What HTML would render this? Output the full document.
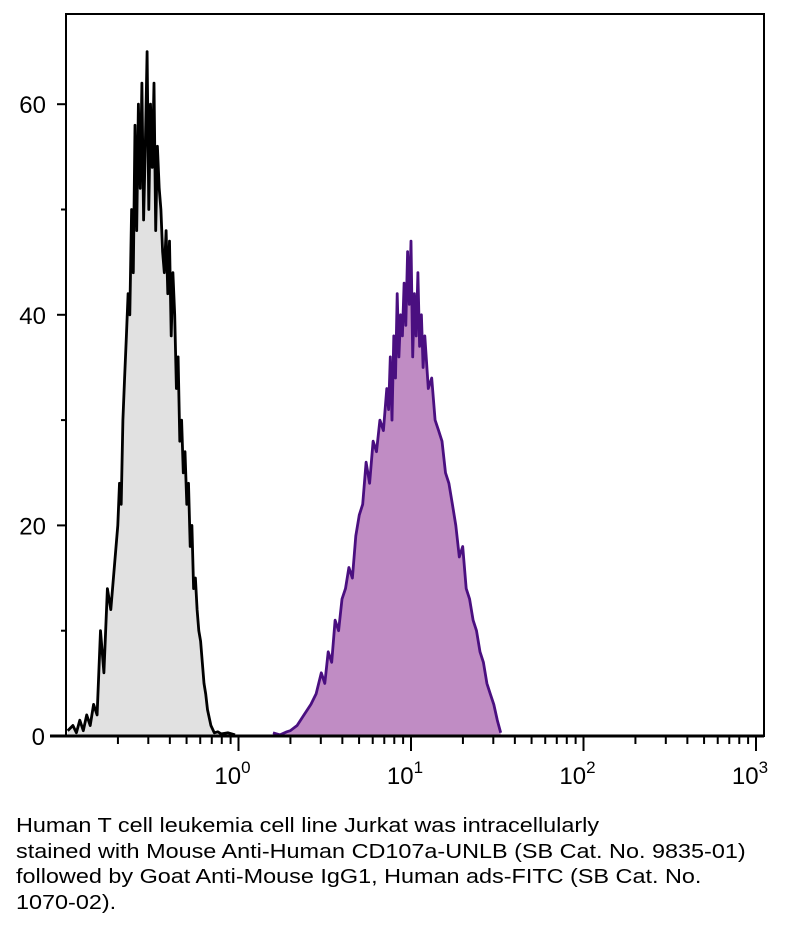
<!DOCTYPE html>
<html><head><meta charset="utf-8"><style>
body{margin:0;background:#fff;width:790px;height:930px;overflow:hidden;font-family:"Liberation Sans",sans-serif}
#cap{position:absolute;left:16px;top:814px;font-size:20px;line-height:25.5px;color:#000;width:700px;white-space:nowrap;transform:scaleX(1.17);transform-origin:0 0}
</style></head><body>
<svg id="chart" width="790" height="800" style="position:absolute;left:0;top:0"></svg>
<div id="cap">Human T cell leukemia cell line Jurkat was intracellularly<br>stained with Mouse Anti-Human CD107a-UNLB (SB Cat. No. 9835-01)<br>followed by Goat Anti-Mouse IgG1, Human ads-FITC (SB Cat. No.<br>1070-02).</div>
<script>
const yTicks=[0,20,40,60];
const yMinor=[10,30,50];
const xDecades=[0,1,2,3];
const isoLog=[-0.99,-0.96,-0.94,-0.92,-0.9,-0.88,-0.86,-0.84,-0.82,-0.80,-0.78,-0.76,-0.74,-0.72,-0.70,-0.69,-0.68,-0.67,-0.66,-0.65,-0.64,-0.63,-0.62,-0.61,-0.60,-0.59,-0.58,-0.57,-0.56,-0.55,-0.54,-0.53,-0.52,-0.51,-0.50,-0.49,-0.48,-0.47,-0.46,-0.45,-0.44,-0.43,-0.42,-0.41,-0.40,-0.39,-0.38,-0.37,-0.36,-0.35,-0.34,-0.33,-0.32,-0.31,-0.30,-0.29,-0.28,-0.27,-0.26,-0.25,-0.24,-0.23,-0.22,-0.21,-0.20,-0.19,-0.18,-0.16,-0.14,-0.12,-0.10,-0.06,-0.02];
const isoCnt=[0.5,1,0.3,1.5,0.5,2,1,3,2,10,6,14,12,16,20,24,22,30,34,38,42,40,50,44,58,48,60,52,62,49,56,65,50,60,54,62,48,56,52,50,46,44,48,42,47,38,44,40,33,36,28,30,25,27,22,24,18,20,14,15,12,10,9,7,5,4,2.5,1,0.3,0.4,0.2,0.3,0.1];
const cdLog=[0.2,0.24,0.28,0.30,0.34,0.38,0.42,0.45,0.48,0.50,0.52,0.54,0.56,0.58,0.60,0.62,0.64,0.66,0.68,0.70,0.72,0.74,0.76,0.78,0.80,0.82,0.84,0.86,0.87,0.88,0.89,0.90,0.91,0.92,0.93,0.94,0.95,0.96,0.97,0.98,0.99,1.00,1.01,1.02,1.03,1.04,1.05,1.06,1.07,1.08,1.10,1.12,1.14,1.16,1.18,1.20,1.22,1.24,1.26,1.28,1.30,1.32,1.34,1.36,1.38,1.40,1.42,1.44,1.46,1.48,1.50,1.52];
const cdCnt=[0.3,0.1,0.4,0.5,1,2,3,4,6,5,8,7,11,10,13,14,16,15,19,21,22,26,24,28,27,30,29,33,31,36,30,38,34,42,36,40,38,43,39,46,41,47,36,42,38,44,37,40,35,38,33,34,30,29,28,25,24,22,20,17,18,14,13,11,10,8,7,5,4,3,1.5,0.3];
const L=66,R=764,T=14,B=736;
const X=l=>L+(l+1)*172.5, Y=v=>B-v*10.53;
const svg=document.getElementById('chart'),NS='http://www.w3.org/2000/svg';
function mk(t,a,p){const e=document.createElementNS(NS,t);for(const k in a)e.setAttribute(k,a[k]);(p||svg).appendChild(e);return e;}
function area(ls,cs,fill,stroke,name){
  let d='M'+X(ls[0])+','+B;ls.forEach((l,i)=>{d+=' L'+X(l).toFixed(1)+','+Y(cs[i]).toFixed(1);});d+=' L'+X(ls[ls.length-1])+','+B+'Z';
  const f=mk('path',{d:d,fill:fill,stroke:'none'});
  
  
  let d2='';ls.forEach((l,i)=>{d2+=(i?' L':'M')+X(l).toFixed(1)+','+Y(cs[i]).toFixed(1);});
  const s=mk('path',{d:d2,fill:'none',stroke:stroke,'stroke-width':2.8,'stroke-linejoin':'round'});
  
  
}
area(isoLog,isoCnt,'#e1e1e1','#000','isotype-histogram');
area(cdLog,cdCnt,'#c08cc4','#4a0f80','cd107a-histogram');
const fr=mk('rect',{x:L,y:T,width:R-L,height:B-T,fill:'none',stroke:'#000','stroke-width':2});


mk('line',{x1:L-16,y1:B,x2:R,y2:B,stroke:'#000','stroke-width':3});
yTicks.forEach(v=>{mk('line',{x1:L-9,y1:Y(v),x2:L,y2:Y(v),stroke:'#000','stroke-width':2});
  const t=mk('text',{x:v===0?L-21:L-20,y:Y(v)+9,'text-anchor':'end','font-size':24,'font-family':'Liberation Sans'});t.textContent=v;
  
  });
yMinor.forEach(v=>mk('line',{x1:L-5,y1:Y(v),x2:L,y2:Y(v),stroke:'#000','stroke-width':2}));
for(let d=-1;d<3;d++)for(let m=2;m<=9;m++){const l=d+Math.log10(m);mk('line',{x1:X(l),y1:B,x2:X(l),y2:B+8,stroke:'#000','stroke-width':2});}
xDecades.forEach(d=>{mk('line',{x1:X(d),y1:B,x2:X(d),y2:B+15,stroke:'#000','stroke-width':2});
  const t=mk('text',{x:X(d)-6,y:B+48,'text-anchor':'middle','font-size':24,'font-family':'Liberation Sans'});
  
  
  t.textContent='10';const s=mk('tspan',{dy:-11,'font-size':17},t);s.textContent=d;});
</script>
</body></html>
